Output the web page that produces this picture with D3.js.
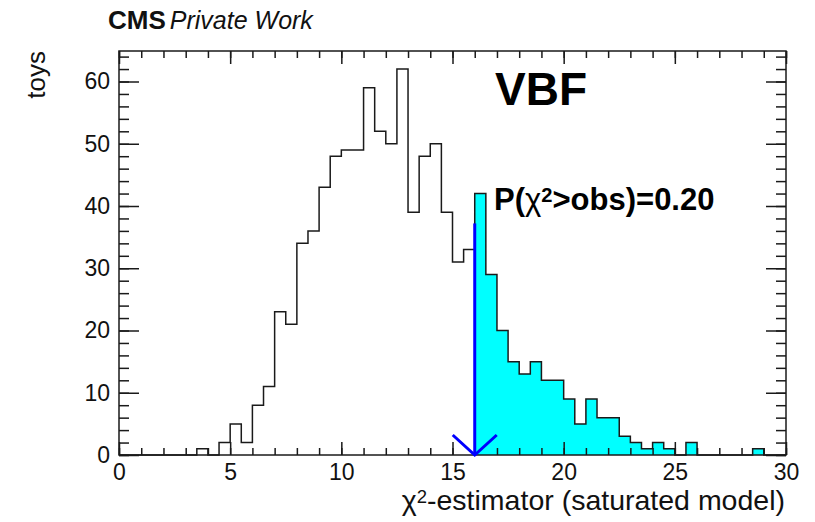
<!DOCTYPE html>
<html>
<head>
<meta charset="utf-8">
<script src="https://cdn.jsdelivr.net/npm/d3@7"></script>
<style>
  body { margin: 0; background: white; }
  svg { font-family: 'Liberation Sans', Arial, Helvetica, sans-serif; }
</style>
</head>
<body>
<svg id="chart" width="815" height="522"></svg>
<script>
// toy distribution of the chi2 estimator, 60 bins of 0.5 between 0 and 30

const xRange = [0, 30];
const binWidth = 0.5;
const counts = [
  0, 0, 0, 0, 0, 0, 0, 1, 0, 2,
  5, 2, 8, 11, 23, 21, 34, 36, 43, 48,
  49, 49, 59, 52, 50, 62, 39, 48, 50, 39,
  31, 33, 42, 29, 20, 15, 13, 15, 12, 12,
  9, 5, 9, 6, 6, 3, 2, 1, 2, 1,
  0, 2, 0, 0, 0, 0, 0, 1, 0, 0
];

const xMajorTicks = [0, 5, 10, 15, 20, 25, 30];
const xMinorTicks = d3.range(0, 31, 1);
const yMajorTicks = [0, 10, 20, 30, 40, 50, 60];
const yMinorTicks = d3.range(0, 65, 2);
const yMax = 64.9;

const observed = 16;      // observed chi2 value
const arrowTop = 37.2;    // arrow starts at this height
const pValue = '0.20';

const margin = { top: 51, right: 29, bottom: 67, left: 119 };
const width = 815 - margin.left - margin.right;
const height = 522 - margin.top - margin.bottom;

const lineColor = '#1a1a1a';
const fillColor = '#00ffff';
const arrowColor = '#0000ff';

const svg = d3.select('#chart');

const g = svg.append('g')
    .attr('transform', `translate(${margin.left}, ${margin.top})`);

// scales

const x = d3.scaleLinear()
    .domain(xRange)
    .range([0, width]);

const y = d3.scaleLinear()
    .domain([0, yMax])
    .range([height, 0]);

// histogram points (lower bin edge, content)

const bins = counts.map((c, i) => [xRange[0] + i * binWidth, c]);
const last = counts[counts.length - 1];

const outlinePoints = [[xRange[0], 0], ...bins, [xRange[1], last], [xRange[1], 0]];
const tailPoints = [...bins.filter(d => d[0] >= observed), [xRange[1], last]];

// shaded tail

g.append('path')
    .datum(tailPoints)
    .attr('fill', fillColor)
    .attr('stroke', 'none')
    .attr('d', d3.area()
      .curve(d3.curveStepAfter)
      .x(d => x(d[0]))
      .y0(y(0))
      .y1(d => y(d[1])));

// outline

g.append('path')
    .datum(outlinePoints)
    .attr('fill', 'none')
    .attr('stroke', lineColor)
    .attr('stroke-width', 1.5)
    .attr('d', d3.line()
      .curve(d3.curveStepAfter)
      .x(d => x(d[0]))
      .y(d => y(d[1])));

// axes, ticks pointing inwards on all four sides

function styleAxis(sel) {
  sel.select('.domain').remove();
  sel.selectAll('line')
      .attr('stroke', lineColor)
      .attr('stroke-width', 1.5);
  sel.selectAll('text')
      .attr('fill', '#111')
      .attr('font-size', 23);
}

g.append('g')
    .attr('transform', `translate(0, ${height})`)
    .call(d3.axisBottom(x).tickValues(xMinorTicks).tickSize(-7).tickFormat(''))
    .call(styleAxis);

g.append('g')
    .attr('transform', `translate(0, ${height})`)
    .call(d3.axisBottom(x).tickValues(xMajorTicks).tickSize(-13).tickPadding(9).tickFormat(d3.format('d')))
    .call(styleAxis);

g.append('g')
    .call(d3.axisTop(x).tickValues(xMinorTicks).tickSize(-7).tickFormat(''))
    .call(styleAxis);

g.append('g')
    .call(d3.axisTop(x).tickValues(xMajorTicks).tickSize(-13).tickFormat(''))
    .call(styleAxis);

g.append('g')
    .call(d3.axisLeft(y).tickValues(yMinorTicks).tickSize(-10).tickFormat(''))
    .call(styleAxis);

g.append('g')
    .call(d3.axisLeft(y).tickValues(yMajorTicks).tickSize(-20).tickPadding(9).tickFormat(d3.format('d')))
    .call(styleAxis);

g.append('g')
    .attr('transform', `translate(${width}, 0)`)
    .call(d3.axisRight(y).tickValues(yMinorTicks).tickSize(-10).tickFormat(''))
    .call(styleAxis);

g.append('g')
    .attr('transform', `translate(${width}, 0)`)
    .call(d3.axisRight(y).tickValues(yMajorTicks).tickSize(-20).tickFormat(''))
    .call(styleAxis);

// frame

g.append('rect')
    .attr('width', width)
    .attr('height', height)
    .attr('fill', 'none')
    .attr('stroke', lineColor)
    .attr('stroke-width', 1.5);

// arrow at the observed value

const ax = x(observed);
const ay = y(0);

g.append('line')
    .attr('x1', ax)
    .attr('x2', ax)
    .attr('y1', y(arrowTop))
    .attr('y2', ay)
    .attr('stroke', arrowColor)
    .attr('stroke-width', 3);

g.append('path')
    .attr('d', `M${ax - 22},${ay - 20}L${ax},${ay}L${ax + 22},${ay - 20}`)
    .attr('fill', 'none')
    .attr('stroke', arrowColor)
    .attr('stroke-width', 3);

// labels

g.append('text')
    .attr('x', width - 1)
    .attr('y', height + 55)
    .attr('text-anchor', 'end')
    .attr('font-size', 28.5)
    .attr('fill', '#111')
    .call(t => t.append('tspan').text('\u03c7'))
    .call(t => t.append('tspan').attr('dy', '-0.4em').attr('font-size', '0.65em').text('2'))
    .call(t => t.append('tspan').attr('dy', '0.26em').text('-estimator (saturated model)'));

g.append('text')
    .attr('transform', `translate(-74, 0) rotate(-90)`)
    .attr('text-anchor', 'end')
    .attr('font-size', 26)
    .attr('fill', '#111')
    .text('toys');

svg.append('text')
    .attr('x', 108)
    .attr('y', 29)
    .attr('font-size', 26)
    .attr('font-weight', 'bold')
    .attr('fill', '#111')
    .text('CMS')
  .append('tspan')
    .attr('dx', 4)
    .attr('font-weight', 'normal')
    .attr('font-style', 'italic')
    .attr('font-size', 25)
    .text('Private Work');

g.append('text')
    .attr('x', 495 - margin.left)
    .attr('y', 105 - margin.top)
    .attr('font-size', 46)
    .attr('font-weight', 'bold')
    .attr('fill', '#000')
    .text('VBF');

g.append('text')
    .attr('x', 494 - margin.left)
    .attr('y', 210 - margin.top)
    .attr('font-size', 31)
    .attr('font-weight', 'bold')
    .attr('fill', '#000')
    .call(t => t.append('tspan').text('P('))
    .call(t => t.append('tspan').attr('font-weight', 'normal').text('\u03c7'))
    .call(t => t.append('tspan').attr('dy', '-0.4em').attr('font-size', '0.65em').text('2'))
    .call(t => t.append('tspan').attr('dy', '0.26em').text(`>obs)=${pValue}`));
</script>
</body>
</html>
